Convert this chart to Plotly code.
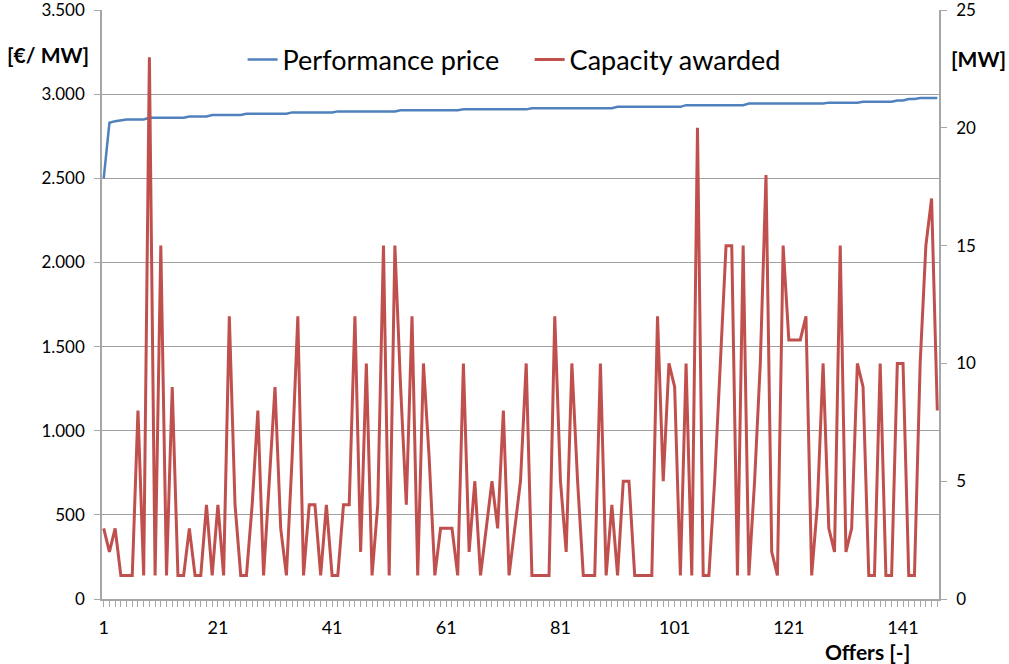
import plotly.graph_objects as go

offers = list(range(1, 148))

performance_price = [
    2500, 2830, 2840, 2845, 2850, 2850, 2850, 2850, 2860, 2860,
    2860, 2860, 2860, 2860, 2860, 2868, 2868, 2868, 2868, 2876,
    2876, 2876, 2876, 2876, 2876, 2884, 2884, 2884, 2884, 2884,
    2884, 2884, 2884, 2892, 2892, 2892, 2892, 2892, 2892, 2892,
    2892, 2898, 2898, 2898, 2898, 2898, 2898, 2898, 2898, 2898,
    2898, 2898, 2905, 2905, 2905, 2905, 2905, 2905, 2905, 2905,
    2905, 2905, 2905, 2910, 2910, 2910, 2910, 2910, 2910, 2910,
    2910, 2910, 2910, 2910, 2910, 2917, 2917, 2917, 2917, 2917,
    2917, 2917, 2917, 2917, 2917, 2917, 2917, 2917, 2917, 2917,
    2925, 2925, 2925, 2925, 2925, 2925, 2925, 2925, 2925, 2925,
    2925, 2925, 2935, 2935, 2935, 2935, 2935, 2935, 2935, 2935,
    2935, 2935, 2935, 2945, 2945, 2945, 2945, 2945, 2945, 2945,
    2945, 2945, 2945, 2945, 2945, 2945, 2945, 2950, 2950, 2950,
    2950, 2950, 2950, 2955, 2955, 2955, 2955, 2955, 2955, 2963,
    2963, 2972, 2972, 2978, 2978, 2978, 2978,
]

capacity_awarded = [
    3, 2, 3, 1, 1, 1, 8, 1, 23, 1,
    15, 1, 9, 1, 1, 3, 1, 1, 4, 1,
    4, 1, 12, 4, 1, 1, 4, 8, 1, 5,
    9, 3, 1, 6, 12, 1, 4, 4, 1, 4,
    1, 1, 4, 4, 12, 2, 10, 1, 4, 15,
    1, 15, 9, 4, 12, 1, 10, 6, 1, 3,
    3, 3, 1, 10, 2, 5, 1, 3, 5, 3,
    8, 1, 3, 5, 10, 1, 1, 1, 1, 12,
    5, 2, 10, 5, 1, 1, 1, 10, 1, 4,
    1, 5, 5, 1, 1, 1, 1, 12, 5, 10,
    9, 1, 10, 1, 20, 1, 1, 5, 10, 15,
    15, 1, 15, 1, 5, 10, 18, 2, 1, 15,
    11, 11, 11, 12, 1, 4, 10, 3, 2, 15,
    2, 3, 10, 9, 1, 1, 10, 1, 1, 10,
    10, 1, 1, 10, 15, 17, 8,
]

x_tick_labels = [1, 21, 41, 61, 81, 101, 121, 141]
left_ticks = [0, 500, 1000, 1500, 2000, 2500, 3000, 3500]
right_ticks = [0, 5, 10, 15, 20, 25]

FONT = "Lato"
AXIS_COL = "#a6a6a6"
GRID_COL = "#a0a0a0"

fig = go.Figure()
fig.add_trace(go.Scatter(
    x=offers, y=performance_price, name="Performance price",
    mode="lines", line=dict(color="#4f81bd", width=2.5), yaxis="y",
))
fig.add_trace(go.Scatter(
    x=offers, y=capacity_awarded, name="Capacity awarded",
    mode="lines", line=dict(color="#c0504d", width=3), yaxis="y2",
))

fig.update_layout(
    width=1009, height=664,
    margin=dict(l=102, r=70, t=10, b=65),
    paper_bgcolor="white", plot_bgcolor="white",
    separators=",.",
    font=dict(family=FONT, size=17, color="#000000"),
    showlegend=True,
    legend=dict(
        orientation="h", x=0.168, y=0.915, xanchor="left", yanchor="middle",
        bgcolor="rgba(0,0,0,0)", font=dict(size=27, family=FONT),
        itemwidth=30, tracegroupgap=0,
        entrywidth=242, entrywidthmode="pixels",
    ),
    xaxis=dict(
        range=[0.7, 147.3], tickmode="array", tickvals=x_tick_labels,
        ticks="outside", ticklen=6, tickcolor=AXIS_COL,
        showline=True, linecolor=AXIS_COL, linewidth=1.5,
        showgrid=False, zeroline=False, automargin=False,
        minor=dict(tick0=1, dtick=1, ticks="outside", ticklen=6,
                   tickcolor=AXIS_COL, showgrid=False),
        ticklabelstandoff=6, tickfont=dict(size=18),
    ),
    yaxis=dict(
        range=[0, 3500.5], tickmode="array", tickvals=left_ticks,
        tickformat=",d", separatethousands=True,
        ticks="outside", ticklen=6, tickcolor=AXIS_COL,
        showline=True, linecolor=AXIS_COL, linewidth=1.5,
        showgrid=True, gridcolor=GRID_COL, gridwidth=1, zeroline=False,
        ticklabelstandoff=6, ticklabeloverflow="allow", automargin=False,
    ),
    yaxis2=dict(
        range=[0, 25.0036], tickmode="array", tickvals=right_ticks,
        overlaying="y", side="right",
        ticks="outside", ticklen=6, tickcolor=AXIS_COL,
        showline=True, linecolor=AXIS_COL, linewidth=1.5,
        showgrid=False, zeroline=False,
        ticklabelstandoff=6, ticklabeloverflow="allow", automargin=False,
    ),
    annotations=[
        dict(text="<b>[€/ MW]</b>", xref="paper", yref="paper",
             x=-0.0645, y=0.9236, xanchor="center", yanchor="middle",
             showarrow=False, font=dict(size=21, family=FONT)),
        dict(text="<b>[MW]</b>", xref="paper", yref="paper",
             x=1.0466, y=0.9185, xanchor="center", yanchor="middle",
             showarrow=False, font=dict(size=21, family=FONT)),
        dict(text="<b>Offers [-]</b>", xref="paper", yref="paper",
             x=0.915, y=-0.0883, xanchor="center", yanchor="middle",
             showarrow=False, font=dict(size=21, family=FONT)),
    ],
)

fig.write_html(
    "out.html",
    config={"displayModeBar": False},
    post_script="document.body.style.margin='0';document.body.style.overflow='hidden';",
)
